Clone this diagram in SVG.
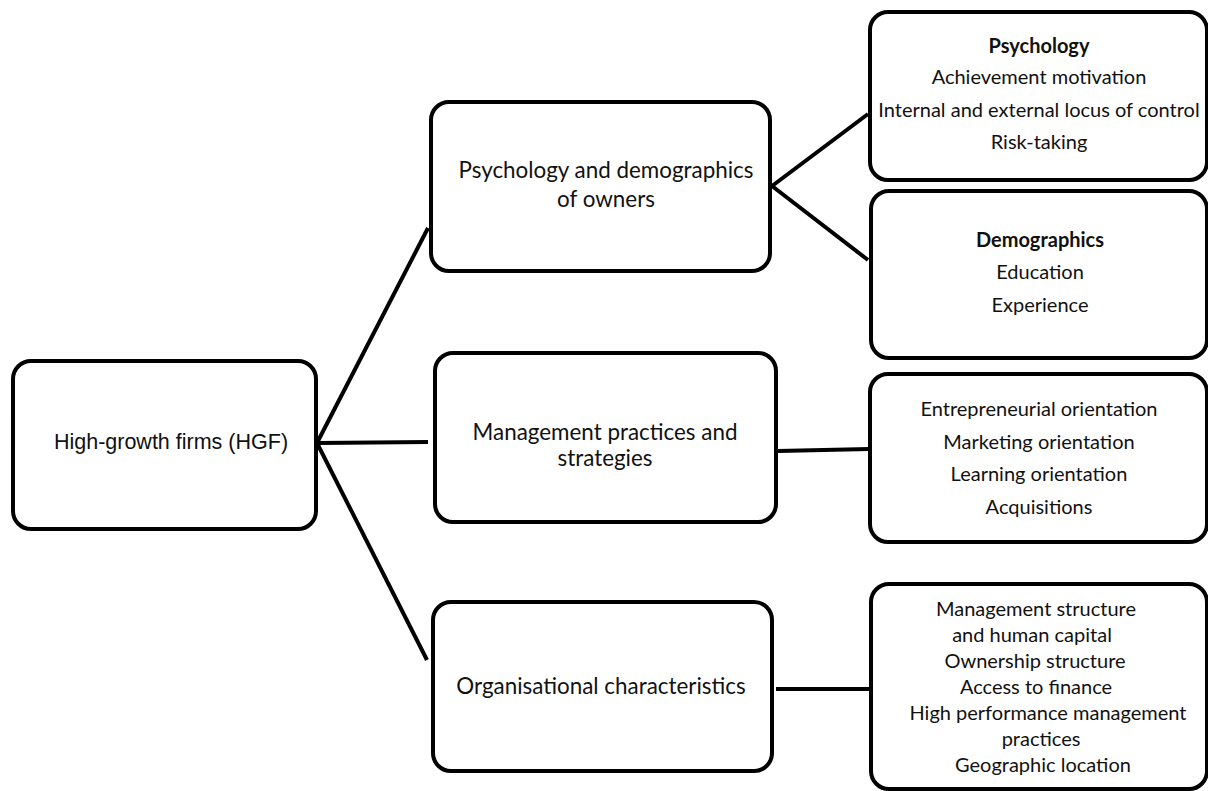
<svg xmlns="http://www.w3.org/2000/svg" width="1208" height="791" viewBox="0 0 1208 791">
  <style>
    .box { fill: #ffffff; stroke: #000000; stroke-width: 4; }
    .link { stroke: #000000; stroke-width: 4; fill: none; stroke-linecap: butt; }
    .t { font-family: Lato, "Noto Sans", sans-serif; font-size: 20px; fill: #111111; text-anchor: middle; }
    .mid { font-family: Lato, "Noto Sans", sans-serif; font-size: 22.4px; fill: #111111; text-anchor: middle; }
    .b { font-weight: bold; }
    .arial { font-family: "Liberation Sans", Arial, sans-serif; font-size: 21.5px; fill: #111111; text-anchor: middle; }
  </style>
  <rect width="1208" height="791" fill="#ffffff"/>

  <g id="connectors">
    <line class="link" x1="318" y1="441" x2="428" y2="228"/>
    <line class="link" x1="318" y1="443" x2="428" y2="442"/>
    <line class="link" x1="318" y1="445" x2="427" y2="660"/>
    <line class="link" x1="772" y1="186" x2="868" y2="114"/>
    <line class="link" x1="772" y1="186" x2="868" y2="260"/>
    <line class="link" x1="778" y1="451" x2="869" y2="449"/>
    <line class="link" x1="776" y1="689" x2="869" y2="689"/>
  </g>

  <g id="hgf">
    <rect class="box" x="13" y="361" width="303" height="168" rx="18"/>
    <text class="arial" x="171" y="449">High-growth firms (HGF)</text>
  </g>

  <g id="psych-demo">
    <rect class="box" x="431" y="102" width="339" height="169" rx="18"/>
    <text class="mid" x="606" y="178">Psychology and demographics</text>
    <text class="mid" x="606" y="207">of owners</text>
  </g>

  <g id="management">
    <rect class="box" x="435" y="353" width="341" height="169" rx="18"/>
    <text class="mid" x="605" y="440">Management practices and</text>
    <text class="mid" x="605" y="466">strategies</text>
  </g>

  <g id="organisational">
    <rect class="box" x="433" y="602" width="339" height="169" rx="18"/>
    <text class="mid" x="601" y="694">Organisational characteristics</text>
  </g>

  <g id="psychology">
    <rect class="box" x="870" y="12" width="337" height="168" rx="18"/>
    <text class="t b" x="1039" y="53">Psychology</text>
    <text class="t" x="1039" y="84">Achievement motivation</text>
    <text class="t" x="1039" y="117">Internal and external locus of control</text>
    <text class="t" x="1039" y="149">Risk-taking</text>
  </g>

  <g id="demographics">
    <rect class="box" x="871" y="191" width="336" height="167" rx="18"/>
    <text class="t b" x="1040" y="247">Demographics</text>
    <text class="t" x="1040" y="279">Education</text>
    <text class="t" x="1040" y="312">Experience</text>
  </g>

  <g id="orientations">
    <rect class="box" x="870" y="374" width="337" height="168" rx="18"/>
    <text class="t" x="1039" y="416">Entrepreneurial orientation</text>
    <text class="t" x="1039" y="449">Marketing orientation</text>
    <text class="t" x="1039" y="481">Learning orientation</text>
    <text class="t" x="1039" y="514">Acquisitions</text>
  </g>

  <g id="org-factors">
    <rect class="box" x="871" y="584" width="336" height="205" rx="18"/>
    <text class="t" x="1036" y="616">Management structure</text>
    <text class="t" x="1032" y="642">and human capital</text>
    <text class="t" x="1035" y="668">Ownership structure</text>
    <text class="t" x="1036" y="694">Access to finance</text>
    <text class="t" x="1048" y="720">High performance management</text>
    <text class="t" x="1041" y="746">practices</text>
    <text class="t" x="1043" y="772">Geographic location</text>
  </g>
</svg>
